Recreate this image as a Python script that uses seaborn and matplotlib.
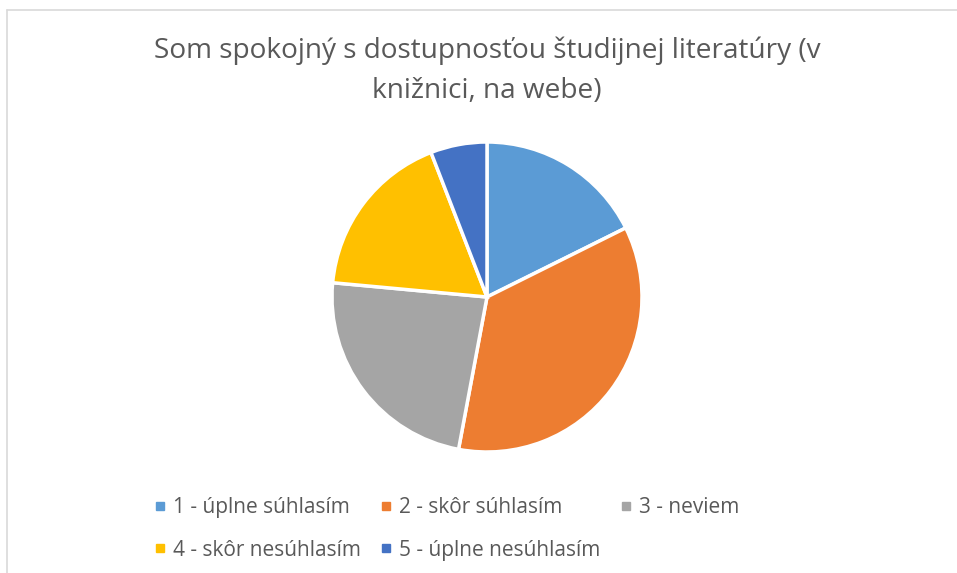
"""
Pie chart: satisfaction with study literature availability.
"""
import matplotlib
matplotlib.use("Agg")
import matplotlib.pyplot as plt
from matplotlib.lines import Line2D
import seaborn as sns

# data
categories = [
    "1 - úplne súhlasím",
    "2 - skôr súhlasím",
    "3 - neviem",
    "4 - skôr nesúhlasím",
    "5 - úplne nesúhlasím",
]
counts = [3, 6, 4, 3, 1]
colors = ["#5B9BD5", "#ED7D31", "#A5A5A5", "#FFC000", "#4472C4"]
title = "Som spokojný s dostupnosťou študijnej literatúry (v\nknižnici, na webe)"

sns.set_theme(style="white")
plt.rcParams["font.family"] = ["Open Sans", "DejaVu Sans"]

W, H = 957, 573
fig = plt.figure(figsize=(W / 100, H / 100), dpi=100)
fig.patch.set_facecolor("white")

# pie axes: centre (487, 297) px, radius ~155 px
cx, cy, r = 487, 297, 155
ax = fig.add_axes([(cx - r) / W, (H - cy - r) / H, 2 * r / W, 2 * r / H])
ax.pie(counts, colors=colors, startangle=90, counterclock=False,
       wedgeprops=dict(edgecolor="white", linewidth=2.5))
ax.set_xlim(-1, 1)
ax.set_ylim(-1, 1)
ax.axis("off")

fig.text(cx / W, 1 - 71 / H, title, ha="center", va="center",
         fontsize=20.2, color="#595959", linespacing=1.55)

# legend, row-major order for 3 columns
handles = [Line2D([], [], marker="s", linestyle="none", markersize=5.5,
                  markerfacecolor=c, markeredgecolor=c) for c in colors]
order = [0, 3, 1, 4, 2]
leg = fig.legend([handles[i] for i in order], [categories[i] for i in order],
                 ncol=3, loc="upper left", bbox_to_anchor=(154 / W, 1 - 497 / H),
                 frameon=False, fontsize=15, handlelength=0.55, handletextpad=0.35,
                 columnspacing=0.95, labelspacing=1.04, borderpad=0, borderaxespad=0)
for t in leg.get_texts():
    t.set_color("#595959")

# chart border (only left and top edges visible)
fig.add_artist(Line2D([7.5 / W, 7.5 / W], [0, 1 - 9.5 / H], color="#D9D9D9", lw=1.2))
fig.add_artist(Line2D([7.5 / W, 1], [1 - 9.5 / H, 1 - 9.5 / H], color="#D9D9D9", lw=1.2))

fig.savefig("out.png", dpi=100, facecolor="white")
plt.close(fig)
